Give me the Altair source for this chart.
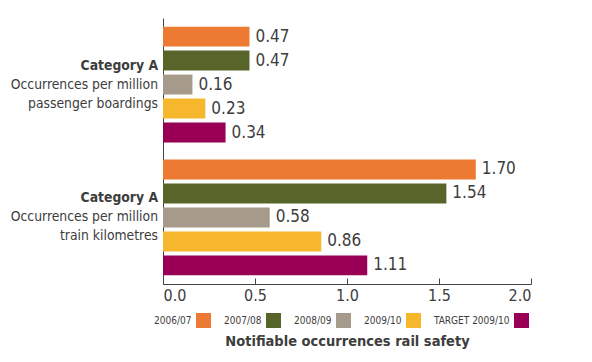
import altair as alt
import pandas as pd

groups = ["Passenger boardings", "Train kilometres"]
title_line = ["Category A", "Category A"]
line2 = ["Occurrences per million", "Occurrences per million"]
line3 = ["passenger boardings", "train kilometres"]
series = ["2006/07", "2007/08", "2008/09", "2009/10", "TARGET 2009/10"]
colors = ["#ED7A32", "#58652A", "#A69B8A", "#F6B72C", "#990055"]
boardings = [0.47, 0.47, 0.16, 0.23, 0.34]
train_km = [1.70, 1.54, 0.58, 0.86, 1.11]
x_ticks = [0.0, 0.5, 1.0, 1.5, 2.0]

rows = []
for g, vals in zip(groups, [boardings, train_km]):
    for s, v in zip(series, vals):
        rows.append({"group": g, "series": s, "value": v})
df = pd.DataFrame(rows)
labels_df = pd.DataFrame({"group": groups, "l1": title_line, "l2": line2, "l3": line3})

# Legend with the label drawn before its swatch: entries are shifted by one,
# so that each swatch is followed by the name of the next series.
legend_keys = ["_start"] + series
legend_colors = ["transparent"] + colors
legend_names = series + [""]
legend_df = pd.DataFrame({"key": legend_keys})
label_expr = "[{}][indexof([{}], datum.value)]".format(
    ",".join("'%s'" % n for n in legend_names),
    ",".join("'%s'" % k for k in legend_keys),
)

FONT = "Liberation Sans Narrow, DejaVu Sans Condensed, sans-serif"
TXT = "#3d3d3d"
AX = "#444444"

y_scale = alt.Scale(paddingInner=0.128, paddingOuter=0.065)
y_axis = alt.Axis(domain=True, domainColor=AX, ticks=False, labels=False, title=None, grid=False)
y_enc = alt.Y("group:N", sort=groups, scale=y_scale, axis=y_axis)
yoff = alt.YOffset("series:N", sort=series, scale=alt.Scale(paddingInner=0.17, paddingOuter=0))
x_scale = alt.Scale(domain=[0, 2], nice=False)

bars = alt.Chart(df).mark_bar().encode(
    x=alt.X("value:Q", scale=x_scale,
            axis=alt.Axis(values=x_ticks, format=".1f", tickSize=0, labelPadding=3,
                          labelFontSize=16, labelFont=FONT, labelColor=TXT,
                          domainColor=AX, grid=False, orient="bottom",
                          title="Notifiable occurrences rail safety", titleFont=FONT,
                          titleFontSize=14.5, titleFontWeight="bold", titleColor=TXT,
                          titlePadding=31)),
    y=y_enc,
    yOffset=yoff,
    color=alt.Color("series:N", sort=series, scale=alt.Scale(domain=series, range=colors),
                    legend=None),
)

legend_layer = alt.Chart(legend_df).transform_filter("false").mark_square().encode(
    color=alt.Color("key:N", sort=legend_keys,
                    scale=alt.Scale(domain=legend_keys, range=legend_colors),
                    legend=alt.Legend(orient="none", legendX=-37, legendY=295,
                                      direction="horizontal", title=None,
                                      symbolType="square", symbolSize=225,
                                      symbolStrokeWidth=0, symbolOpacity=1,
                                      labelExpr=label_expr, labelOffset=13,
                                      labelFontSize=10, labelFont=FONT, labelColor=TXT,
                                      columnPadding=4, padding=0)),
)

values = alt.Chart(df).mark_text(align="left", baseline="middle", dx=6, fontSize=17,
                                 font=FONT, color=TXT).encode(
    x=alt.X("value:Q", scale=x_scale,
            axis=alt.Axis(values=x_ticks, offset=-6, tickSize=6, ticks=True, labels=False,
                          domain=False, grid=False, title=None, orient="bottom",
                          tickColor=AX)),
    y=y_enc,
    yOffset=yoff,
    text=alt.Text("value:Q", format=".2f"),
)

LBL = 13.8
lab1 = alt.Chart(labels_df).mark_text(align="right", baseline="middle", dy=-19, fontSize=LBL,
                                      fontWeight="bold", font=FONT, color=TXT).encode(
    x=alt.value(-5), y=y_enc, text="l1:N")
lab2 = alt.Chart(labels_df).mark_text(align="right", baseline="middle", dy=0, fontSize=LBL,
                                      font=FONT, color=TXT).encode(
    x=alt.value(-5), y=y_enc, text="l2:N")
lab3 = alt.Chart(labels_df).mark_text(align="right", baseline="middle", dy=19, fontSize=LBL,
                                      font=FONT, color=TXT).encode(
    x=alt.value(-5), y=y_enc, text="l3:N")

chart = alt.layer(bars, values, lab1, lab2, lab3, legend_layer).resolve_axis(
    x="independent").resolve_scale(color="independent").properties(
    width=368, height=266,
    padding={"left": 2, "top": 10, "right": 5, "bottom": 2},
).configure_view(stroke=None)

chart.save("out.html", embed_options={"renderer": "svg", "actions": False})
